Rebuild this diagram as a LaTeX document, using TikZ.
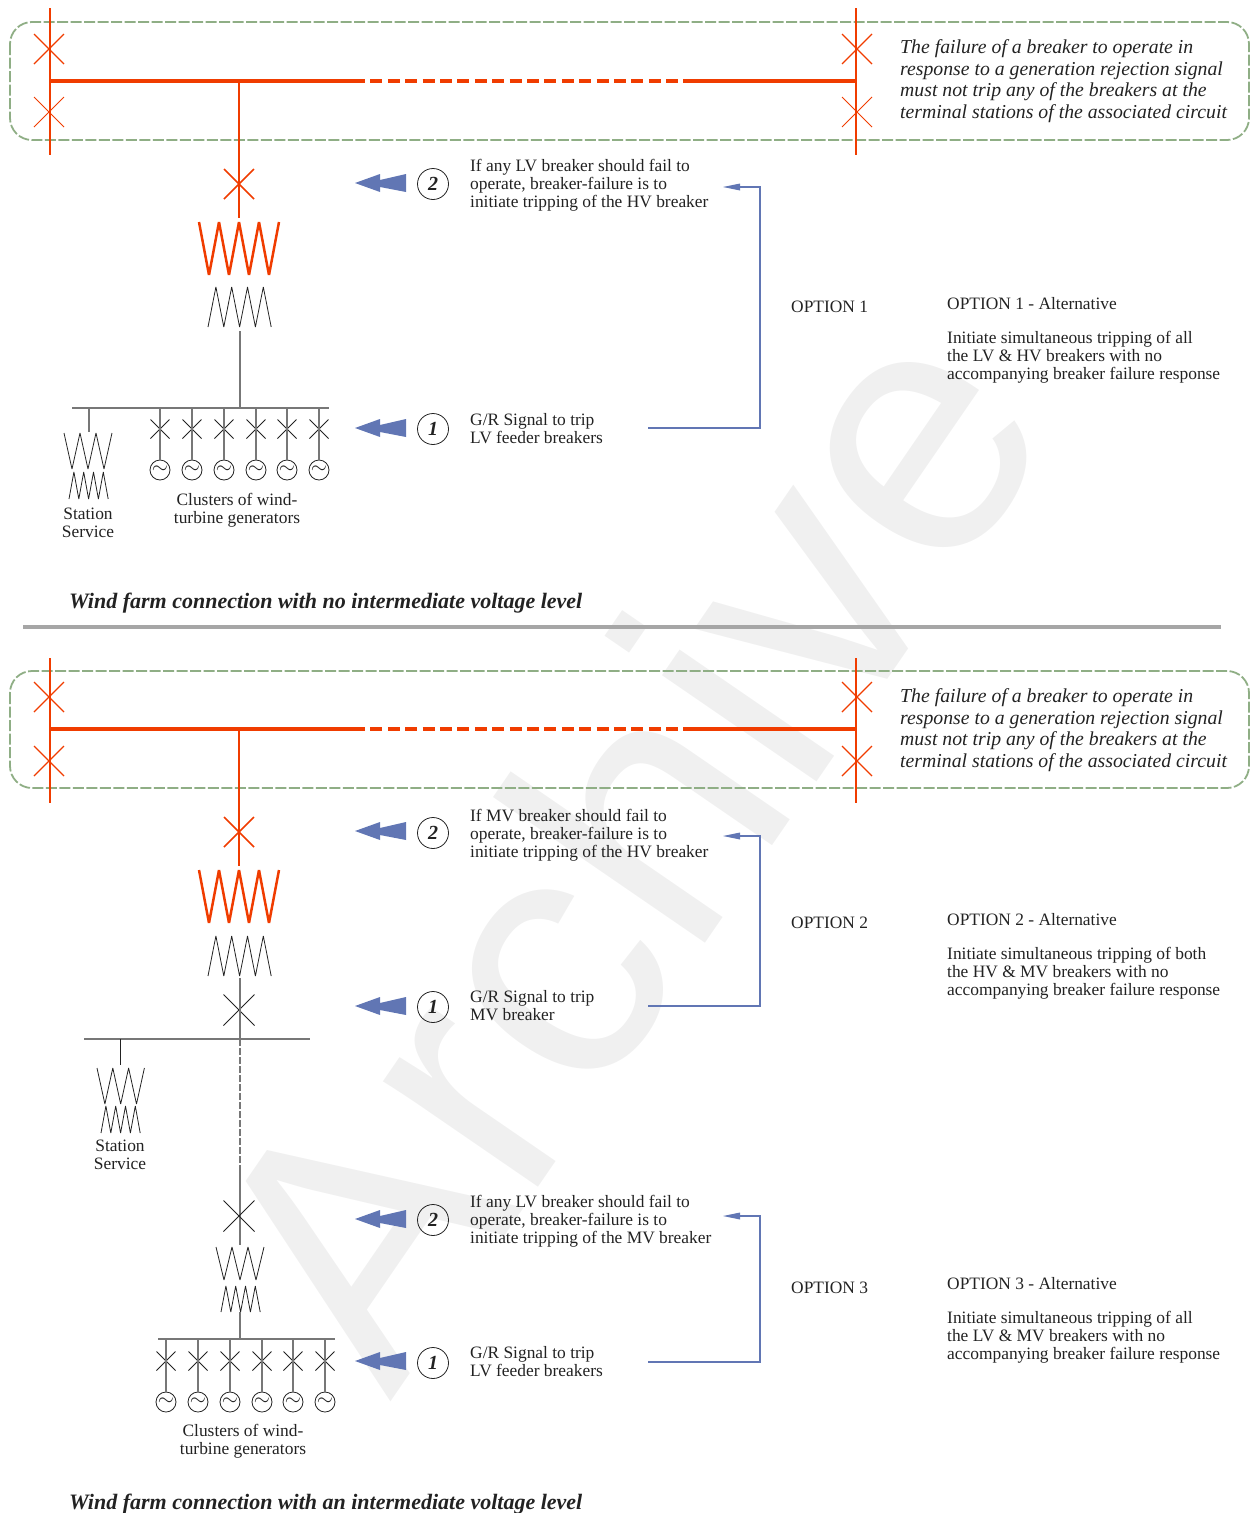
\documentclass[tikz,border=0pt]{standalone}
\usepackage{fontspec}
\setmainfont{Liberation Serif}
\newfontfamily\markfont{Liberation Sans}
\usepackage{xcolor}
\usepackage{tikz}
\usetikzlibrary{shapes.misc}
\usetikzlibrary{positioning}
\definecolor{hvred}{HTML}{F03C00}
\definecolor{sigblue}{HTML}{6176B4}
\definecolor{zonegreen}{HTML}{8FAE85}
\definecolor{wiregray}{HTML}{777777}
\definecolor{inkgray}{HTML}{222222}
\definecolor{markgray}{HTML}{F0F0F0}
\tikzset{
    every node/.style={text=inkgray},
    breaker/.style={cross out,draw,minimum size=#1,inner sep=0pt,outer sep=0pt},
    breaker/.default=30pt,
    hvbreaker/.style={breaker,draw=hvred,line width=1.2pt},
    lvbreaker/.style={breaker=19pt,draw=inkgray,line width=0.8pt},
    mvbreaker/.style={breaker=31pt,draw=inkgray,line width=0.8pt},
    gen/.style={circle,draw=inkgray,line width=0.8pt,minimum size=20pt,inner sep=0pt,font=\fontsize{22}{22}\selectfont},
    numcirc/.style={circle,draw=inkgray,line width=0.8pt,minimum size=31pt,inner sep=0pt,font=\fontsize{20}{20}\selectfont\bfseries\itshape},
    note/.style={align=left,anchor=west,inner sep=0pt,font=\fontsize{17.4}{18}\selectfont},
    plain/.style={align=center,inner sep=0pt,font=\fontsize{17.4}{18}\selectfont},
    duty/.style={align=left,anchor=west,inner sep=0pt,font=\fontsize{19.75}{21.7}\selectfont\itshape},
    caption/.style={anchor=west,inner sep=0pt,font=\fontsize{22}{24}\selectfont\bfseries\itshape},
    zone/.style={draw=zonegreen,line width=1.8pt,rounded corners=22pt,dash pattern=on 11pt off 2.5pt},
    hvline/.style={draw=hvred,line width=1.6pt},
    hvbus/.style={draw=hvred,line width=3.6pt},
    hvdash/.style={hvbus,dash pattern=on 12pt off 5.4pt,dash phase=12pt},
    wire/.style={draw=wiregray,line width=1.1pt},
    signal/.style={draw=sigblue,line width=1.3pt},
    winding/.style={draw=inkgray,line width=0.8pt,line join=bevel},
    hvwinding/.style={draw=hvred,line width=2.5pt,line join=bevel},
    pics/zigzag/.style n args={3}{code={
        \draw[pic actions] (0,0) \foreach \k in {1,...,#3}{ -- ({\k*#1},{mod(\k,2)*#2}) };
    }},
    pics/sigarrow/.style={code={
        \fill[sigblue] (-51,0) -- (-26,-9) -- (-26,-3) -- (0,-9) -- (0,9) -- (-26,4) -- (-26,9) -- cycle;
    }},
    pics/tiphead/.style={code={
        \fill[sigblue] (-37,0) -- (-20,-3.5) -- (-20,3.5) -- cycle;
    }},
}
\begin{document}
\begin{tikzpicture}[x=1pt,y=-1pt]
    \useasboundingbox (0,0) rectangle (1250,1513);

    % watermark
    \node (mark) at (621,843) [rotate=55.5,text=markgray,inner sep=0pt,font=\fontsize{355}{355}\selectfont\markfont] {Archive};

    % upper scheme, hv side
    \draw[zone] (10,22) rectangle (1249,140);
    \coordinate (ta) at (50,8);
    \coordinate (tb) at (50,155);
    \coordinate (tc) at (856,8);
    \coordinate (td) at (856,155);
    \coordinate (busa) at (50,81);
    \coordinate (busb) at (365,81);
    \coordinate (busc) at (683,81);
    \coordinate (busd) at (856,81);
    \coordinate (tee) at (239,81);
    \coordinate (teeend) at (239,218);
    \draw[hvline] (ta) -- (tb);
    \draw[hvline] (tc) -- (td);
    \draw[hvbus] (busa) -- (busb);
    \draw[hvdash] (busb) -- (busc);
    \draw[hvbus] (busc) -- (busd);
    \draw[hvline] (tee) -- (teeend);
    \node[hvbreaker] (ba) at (49,49) {};
    \node[hvbreaker,line width=0.8pt] (bb) at (49,112) {};
    \node[hvbreaker] (bc) at (857,49) {};
    \node[hvbreaker,line width=0.8pt] (bd) at (857,112) {};
    \node[hvbreaker,line width=1.5pt] (be) at (239,184) {};
    \pic[hvwinding] at (199,222) {zigzag={10}{53}{8}};
    \pic[winding] at (208,327) {zigzag={7.9}{-40}{8}};

    % upper scheme, lv side
    \coordinate (lvtop) at (240,331);
    \coordinate (lvjoin) at (240,408);
    \coordinate (lva) at (72,408);
    \coordinate (lvb) at (329,408);
    \coordinate (ssa) at (89,408);
    \coordinate (ssb) at (89,432);
    \draw[wire] (lvtop) -- (lvjoin);
    \draw[wire] (lva) -- (lvb);
    \draw[wire] (ssa) -- (ssb);
    \pic[winding] at (64,433) {zigzag={8}{36}{6}};
    \pic[winding] at (69,499) {zigzag={4.9}{-27}{8}};
    \foreach \i/\x in {1/160,2/192,3/224,4/256,5/287,6/319}{
        \coordinate (fa\i) at (\x,408);
        \node[lvbreaker] (fb\i) at (\x,429) {};
        \node[gen] (fg\i) at (\x,470) {$\sim$};
        \draw[wire] (fa\i) -- (fg\i);
    }
    \node[plain] (ssup) at (88,523) {Station\\Service};
    \node[plain] (clup) at (237,510) {Clusters of wind-\\turbine generators};
    \node[caption] (capa) at (69,603) {Wind farm connection with no intermediate voltage level};

    % upper scheme, notes
    \node[duty] (dutya) at (900,81) {The failure of a breaker to operate in\\response to a generation rejection signal\\must not trip any of the breakers at the\\terminal stations of the associated circuit};
    \pic at (406,183) {sigarrow};
    \node[numcirc] (na) at (433,184) {2};
    \node[note] (ta2) at (470,185) {If any LV breaker should fail to\\operate, breaker-failure is to\\initiate tripping of the HV breaker};
    \pic at (406,428) {sigarrow};
    \node[numcirc] (nb) at (433,429) {1};
    \node[note] (ta1) at (470,429) {G/R Signal to trip\\LV feeder breakers};
    \coordinate (oaa) at (648,428);
    \coordinate (oab) at (760,428);
    \coordinate (oac) at (760,187);
    \coordinate (oad) at (740,187);
    \draw[signal] (oaa) -- (oab) -- (oac) -- (oad);
    \pic at (760,187) {tiphead};
    \node[note] (opa) at (791,307) {OPTION 1};
    \node[note] (alta) at (947,304) {OPTION 1 - Alternative};
    \node[note] (txta) at (947,357.5) {Initiate simultaneous tripping of all\\the LV \& HV breakers with no\\accompanying breaker failure response};

    % separator
    \coordinate (sepa) at (23,627);
    \coordinate (sepb) at (1221,627);
    \draw[draw=black!35,line width=3.6pt] (sepa) -- (sepb);

    % lower scheme, hv side
    \draw[zone] (10,671) rectangle (1249,788);
    \coordinate (la) at (50,658);
    \coordinate (lb) at (50,803);
    \coordinate (lc) at (856,658);
    \coordinate (ld) at (856,803);
    \coordinate (lbusa) at (50,729);
    \coordinate (lbusb) at (365,729);
    \coordinate (lbusc) at (683,729);
    \coordinate (lbusd) at (856,729);
    \coordinate (ltee) at (239,729);
    \coordinate (lteeend) at (239,866);
    \draw[hvline] (la) -- (lb);
    \draw[hvline] (lc) -- (ld);
    \draw[hvbus] (lbusa) -- (lbusb);
    \draw[hvdash] (lbusb) -- (lbusc);
    \draw[hvbus] (lbusc) -- (lbusd);
    \draw[hvline] (ltee) -- (lteeend);
    \node[hvbreaker] (lba) at (49,697) {};
    \node[hvbreaker] (lbb) at (49,761) {};
    \node[hvbreaker] (lbc) at (857,697) {};
    \node[hvbreaker] (lbd) at (857,761) {};
    \node[hvbreaker,line width=1.5pt] (lbe) at (239,832) {};
    \pic[hvwinding] at (199,870) {zigzag={10}{53}{8}};
    \pic[winding] at (208,976) {zigzag={7.9}{-40}{8}};

    % lower scheme, mv side
    \coordinate (mvtop) at (240,978);
    \coordinate (mvjoin) at (240,1039);
    \coordinate (mva) at (84,1039);
    \coordinate (mvb) at (310,1039);
    \coordinate (mvdash) at (240,1165);
    \coordinate (mvlow) at (240,1245);
    \coordinate (sma) at (120,1039);
    \coordinate (smb) at (120,1065);
    \node[mvbreaker] (mbk) at (239,1010) {};
    \draw[wire] (mvtop) -- (mvjoin);
    \draw[wire] (mva) -- (mvb);
    \draw[wire,dash pattern=on 7pt off 2pt] (mvjoin) -- (mvdash);
    \draw[wire] (mvdash) -- (mvlow);
    \draw[draw=inkgray,line width=0.8pt] (sma) -- (smb);
    \node[mvbreaker] (lvbk) at (239,1216) {};
    \pic[winding] at (97,1068) {zigzag={7.9}{36}{6}};
    \pic[winding] at (101,1133) {zigzag={4.9}{-27}{8}};
    \node[plain] (ssdn) at (120,1155) {Station\\Service};
    \pic[winding] at (216,1247) {zigzag={8}{33}{6}};
    \pic[winding] at (221,1312) {zigzag={4.9}{-26}{8}};

    % lower scheme, lv side
    \coordinate (nvtop) at (240,1312);
    \coordinate (nvjoin) at (240,1339);
    \coordinate (nva) at (158,1339);
    \coordinate (nvb) at (335,1339);
    \draw[wire] (nvtop) -- (nvjoin);
    \draw[wire] (nva) -- (nvb);
    \foreach \i/\x in {1/166,2/198,3/230,4/262,5/293,6/325}{
        \coordinate (ga\i) at (\x,1339);
        \node[lvbreaker] (gb\i) at (\x,1361) {};
        \node[gen] (gg\i) at (\x,1402) {$\sim$};
        \draw[wire] (ga\i) -- (gg\i);
    }
    \node[plain] (cldn) at (243,1441) {Clusters of wind-\\turbine generators};
    \node[caption] (capb) at (69,1504) {Wind farm connection with an intermediate voltage level};

    % lower scheme, notes
    \node[duty] (dutyb) at (900,730) {The failure of a breaker to operate in\\response to a generation rejection signal\\must not trip any of the breakers at the\\terminal stations of the associated circuit};
    \pic at (406,831) {sigarrow};
    \node[numcirc] (nc) at (433,833) {2};
    \node[note] (tb2) at (470,835) {If MV breaker should fail to\\operate, breaker-failure is to\\initiate tripping of the HV breaker};
    \pic at (406,1006) {sigarrow};
    \node[numcirc] (nd) at (433,1007) {1};
    \node[note] (tb1) at (470,1006) {G/R Signal to trip\\MV breaker};
    \coordinate (oba) at (648,1006);
    \coordinate (obb) at (760,1006);
    \coordinate (obc) at (760,836);
    \coordinate (obd) at (740,836);
    \draw[signal] (oba) -- (obb) -- (obc) -- (obd);
    \pic at (760,836) {tiphead};
    \node[note] (opb) at (791,923) {OPTION 2};
    \node[note] (altb) at (947,920) {OPTION 2 - Alternative};
    \node[note] (txtb) at (947,973) {Initiate simultaneous tripping of both\\the HV \& MV breakers with no\\accompanying breaker failure response};
    \pic at (406,1219) {sigarrow};
    \node[numcirc] (ne) at (433,1220) {2};
    \node[note] (tc2) at (470,1221) {If any LV breaker should fail to\\operate, breaker-failure is to\\initiate tripping of the MV breaker};
    \pic at (406,1361) {sigarrow};
    \node[numcirc] (nf) at (433,1363) {1};
    \node[note] (tc1) at (470,1362) {G/R Signal to trip\\LV feeder breakers};
    \coordinate (oca) at (648,1362);
    \coordinate (ocb) at (760,1362);
    \coordinate (occ) at (760,1216);
    \coordinate (ocd) at (740,1216);
    \draw[signal] (oca) -- (ocb) -- (occ) -- (ocd);
    \pic at (760,1216) {tiphead};
    \node[note] (opc) at (791,1288) {OPTION 3};
    \node[note] (altc) at (947,1284) {OPTION 3 - Alternative};
    \node[note] (txtc) at (947,1337) {Initiate simultaneous tripping of all\\the LV \& MV breakers with no\\accompanying breaker failure response};
\end{tikzpicture}
\end{document}
